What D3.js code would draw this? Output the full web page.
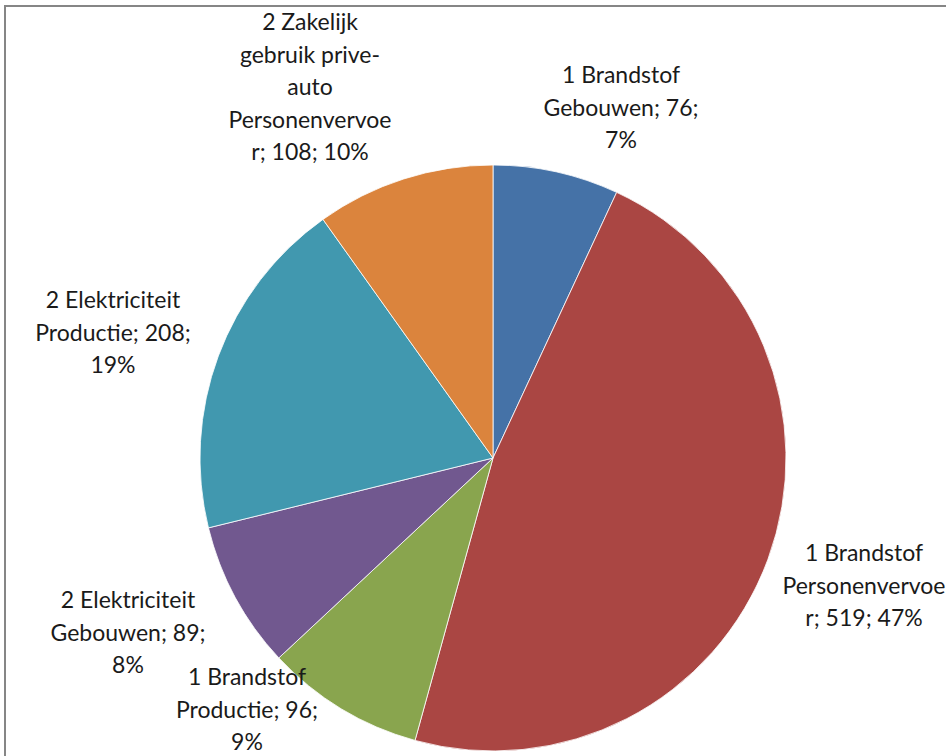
<!DOCTYPE html>
<html>
<head>
<meta charset="utf-8">
<script src="https://cdn.jsdelivr.net/npm/d3@7"></script>
<style>
  body { margin: 0; background: #fff; }
  svg { display: block; }
</style>
</head>
<body>
<div id="chart"></div>
<script>
var categories = [
    '1 Brandstof Gebouwen',
    '1 Brandstof Personenvervoer',
    '1 Brandstof Productie',
    '2 Elektriciteit Gebouwen',
    '2 Elektriciteit Productie',
    '2 Zakelijk gebruik prive-auto Personenvervoer'
];
var values = [76, 519, 96, 89, 208, 108];
var percents = ['7%', '47%', '9%', '8%', '19%', '10%'];
var labelLines = [
    ['1 Brandstof', 'Gebouwen; 76;', '7%'],
    ['1 Brandstof', 'Personenvervoe', 'r; 519; 47%'],
    ['1 Brandstof', 'Productie; 96;', '9%'],
    ['2 Elektriciteit', 'Gebouwen; 89;', '8%'],
    ['2 Elektriciteit', 'Productie; 208;', '19%'],
    ['2 Zakelijk', 'gebruik prive-', 'auto', 'Personenvervoe', 'r; 108; 10%']
];
var colors = ['#4572a7', '#aa4643', '#89a54e', '#71588f', '#4198af', '#db843d'];

// where excel put each label (centre x, first line y)
var labelPos = [[621, 83], [864, 561], [247, 685], [128, 608], [113, 308], [310, 30]];

var width = 946, height = 756;
var cx = 493, cy = 458, radius = 293;
var lineH = 32.5;

var svg = d3.select('#chart').append('svg')
    .attr('width', width)
    .attr('height', height);

svg.append('rect')
    .attr('x', 5)
    .attr('y', 6)
    .attr('width', width + 10)
    .attr('height', height + 10)
    .attr('fill', '#fff')
    .attr('stroke', '#868686')
    .attr('stroke-width', 2);

var pie = d3.pie().sort(null).value(function(d) { return d; });
var arc = d3.arc().innerRadius(0).outerRadius(radius);

var g = svg.append('g').attr('transform', 'translate(' + cx + ',' + cy + ')');

g.selectAll('path')
    .data(pie(values))
    .enter()
    .append('path')
    .attr('d', arc)
    .attr('fill', function(d, i) { return colors[i]; })
    .attr('stroke', '#fff')
    .attr('stroke-width', 0.8);

var labels = svg.append('g')
    .attr('font-family', 'Lato, "Open Sans", sans-serif')
    .attr('font-size', '23px')
    .attr('fill', '#1a1a1a')
    .attr('text-anchor', 'middle');

labels.selectAll('text')
    .data(labelLines)
    .enter()
    .append('text')
    .attr('x', function(d, i) { return labelPos[i][0]; })
    .attr('y', function(d, i) { return labelPos[i][1]; })
    .each(function(d, i) {
        var t = d3.select(this);
        d.forEach(function(line, k) {
            t.append('tspan')
                .attr('x', labelPos[i][0])
                .attr('dy', k === 0 ? 0 : lineH)
                .text(line);
        });
    });
</script>
</body>
</html>
